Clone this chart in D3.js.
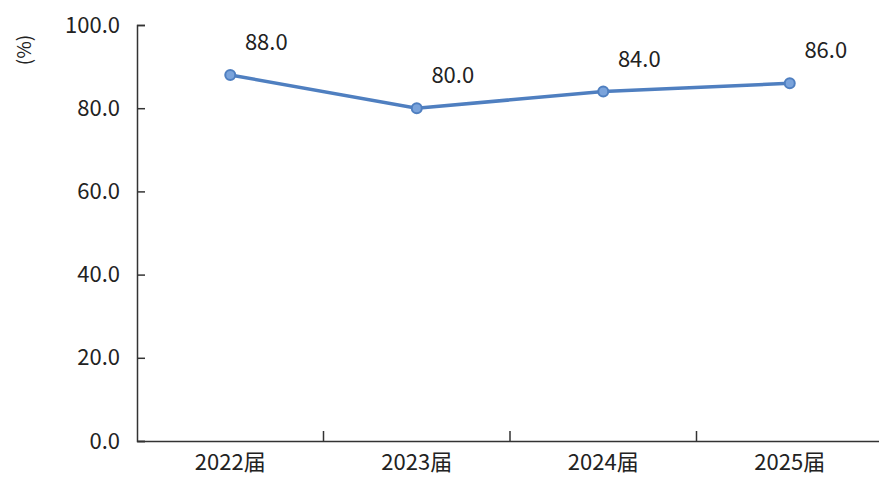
<!DOCTYPE html>
<html><head><meta charset="utf-8">
<script src="https://cdn.jsdelivr.net/npm/d3@7"></script>
<style>body{margin:0;background:#fff}svg{display:block}text{font-family:"Noto Sans CJK SC","Open Sans",sans-serif;fill:#222}</style>
</head><body><svg id="c" width="879" height="482"></svg>
<script>
const categories = ["2022届","2023届","2024届","2025届"];
const values = [88.0, 80.0, 84.0, 86.0];
const yTicks = [0,20,40,60,80,100];

const svg = d3.select("#c");
const m = {l:137, r:-4, t:25, b:41};
const W = 879, H = 482;
const FS = "22px";
const x = d3.scaleBand().domain(categories).range([m.l, W - m.r]);
const y = d3.scaleLinear().domain([0,100]).range([H - m.b, m.t]);

const ya = svg.append("g").attr("transform",`translate(${m.l},0)`)
  .call(d3.axisLeft(y).tickValues(yTicks).tickSize(-8).tickPadding(17).tickFormat(d3.format(".1f")));
ya.selectAll("text").style("font-size",FS);
ya.select(".domain").attr("stroke","#333").attr("stroke-width",1.5);
ya.selectAll(".tick line").attr("stroke","#333").attr("stroke-width",1.5);

const xa = svg.append("g").attr("transform",`translate(0,${H - m.b})`)
  .call(d3.axisBottom(x).tickSize(0).tickPadding(13));
xa.selectAll("text").style("font-size",FS);
xa.select(".domain").attr("stroke","#333").attr("stroke-width",1.5);
xa.selectAll(".sep").data(categories.slice(1)).enter().append("line")
  .attr("x1",d=>x(d)).attr("x2",d=>x(d)).attr("y1",0).attr("y2",-10)
  .attr("stroke","#333").attr("stroke-width",1.5);

svg.append("text").attr("transform","translate(22,50) rotate(-90)")
  .attr("text-anchor","middle").attr("dominant-baseline","central")
  .style("font-size","19px").text("(%)");

const cx = d => x(d) + x.bandwidth()/2;
const line = d3.line().x((d,i)=>cx(categories[i])).y(d=>y(d));
svg.append("path").datum(values).attr("d",line).attr("fill","none")
  .attr("stroke","#4f7fc0").attr("stroke-width",3.5);
svg.selectAll(".pt").data(values).enter().append("circle")
  .attr("cx",(d,i)=>cx(categories[i])).attr("cy",d=>y(d)).attr("r",5)
  .attr("fill","#7aa3db").attr("stroke","#4f7fc0").attr("stroke-width",2);
svg.selectAll(".lbl").data(values).enter().append("text")
  .attr("x",(d,i)=>cx(categories[i])+36).attr("y",d=>y(d)-25)
  .attr("text-anchor","middle").style("font-size",FS)
  .text(d=>d.toFixed(1));
</script></body></html>
